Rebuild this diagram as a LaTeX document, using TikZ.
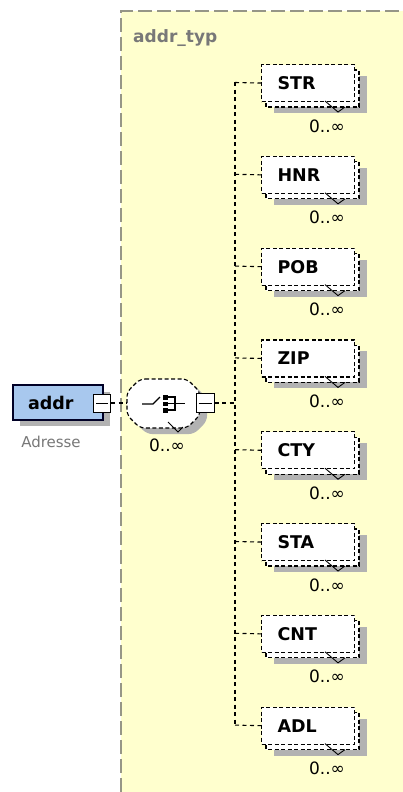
\documentclass[tikz,border=0pt]{standalone}
\usepackage{fontspec}
\setmainfont{DejaVu Sans}
\definecolor{yellowbg}{RGB}{255,255,206}
\definecolor{regiongray}{RGB}{150,150,135}
\definecolor{shadowgray}{RGB}{178,178,178}
\definecolor{addrblue}{RGB}{168,200,238}
\definecolor{textgray}{RGB}{120,120,120}
\begin{document}
\begin{tikzpicture}[x=1pt,y=-1pt,
  dashelem/.style={draw=black, dash pattern=on 4pt off 2.5pt, line width=1.1pt},
  elem/.style={dashelem, fill=white, minimum width=93pt, minimum height=37pt,
    text width=61pt, inner xsep=16pt, align=left, anchor=north west,
    font=\fontsize{17.5}{20}\selectfont\bfseries},
  conn/.style={draw=black, dash pattern=on 4pt off 3.5pt, line width=1.1pt},
  occ/.style={font=\fontsize{17}{19}\selectfont, inner sep=0pt},
  minusbox/.style={draw=black, fill=white, line width=1pt, minimum width=17pt, minimum height=18pt, inner sep=0pt},
  notch/.style={draw=black, line width=0.9pt}
]
\useasboundingbox (0,0) rectangle (403,792);
\fill[white] (0,0) rectangle (403,792);

% complex type region
\fill[yellowbg] (121,11) rectangle (403,792);
\draw[regiongray, line width=1.3pt, dash pattern=on 14pt off 5pt] (121,792) -- (121,11) -- (403,11);
\node[anchor=west, text=textgray, font=\fontsize{17}{20}\selectfont\bfseries, inner sep=0pt] (typname) at (133,38) {addr\_typ};

% addr element
\fill[shadowgray] (20,392) rectangle (110,426);
\node[draw=black!85!blue, fill=addrblue, line width=1.1pt, minimum width=90pt, minimum height=35pt,
  text width=60pt, inner xsep=15pt, align=left, font=\fontsize{17.5}{20}\selectfont\bfseries] (addr) at (58,402.5) {addr};
\node[minusbox] (addrM) at (102,403) {};
\draw[line width=1pt] ([xshift=3pt]addrM.west) -- ([xshift=-3pt]addrM.east);
\node[text=textgray, font=\fontsize{15}{18}\selectfont, inner sep=0pt] (addrdoc) at (51,442) {Adresse};

% sequence compositor
\fill[shadowgray, rounded corners=5pt] (147,385) -- (194,385) -- (207,398) -- (207,421) -- (194,434) -- (147,434) -- (134,421) -- (134,398) -- cycle;
\draw[dashelem, fill=white, rounded corners=5pt] (140,379) -- (187,379) -- (200,392) -- (200,415) -- (187,428) -- (140,428) -- (127,415) -- (127,392) -- cycle;
\coordinate (seqW) at (127,403);
\draw[notch] (168,422) -- (178,432) -- (183,427);
\draw[line width=1.1pt] (142,404) -- (153,404) -- (160,397);
\fill[black] (162.5,395) rectangle (167.5,399.5);
\fill[black] (162.5,401.5) rectangle (167.5,406);
\fill[black] (162.5,408) rectangle (167.5,412.5);
\draw[line width=1.1pt] (168,397) -- (175,397) -- (175,410) -- (168,410);
\draw[line width=1.1pt] (168,403.5) -- (185,403.5);
\node[minusbox, minimum width=18pt, minimum height=19pt] (seqM) at (205,403) {};
\draw[line width=1pt] ([xshift=3pt]seqM.west) -- ([xshift=-3pt]seqM.east);
\node[occ] (seqocc) at (167,445) {0..∞};

\draw[conn] (addrM.east) -- (seqW);
\coordinate (bmid) at (235,403);
\draw[conn] (seqM.east) -- (bmid);

% trunk
\coordinate (trunkTop) at (235,82);
\coordinate (trunkBot) at (235,725);
\draw[conn] (trunkTop) -- (trunkBot);

% child elements
\foreach \nm [count=\k from 0] in {STR,HNR,POB,ZIP,CTY,STA,CNT,ADL} {
  \pgfmathsetmacro{\c}{82+91.8*\k}
  \fill[shadowgray] (274,\c-6) rectangle (367,\c+31);
  \draw[dashelem, fill=white] (266,\c-12) rectangle (359,\c+25);
  \node[elem] (\nm) at (261,\c-18) {\nm};
  \draw[notch] (325,\c+19) -- (338,\c+30) -- (345,\c+25);
  \node[occ] (\nm-occ) at (327,\c+44) {0..∞};
  \coordinate (b-\nm) at (235,\c+0.5);
  \draw[conn] (b-\nm) -- (\nm.west);
}
\end{tikzpicture}
\end{document}
